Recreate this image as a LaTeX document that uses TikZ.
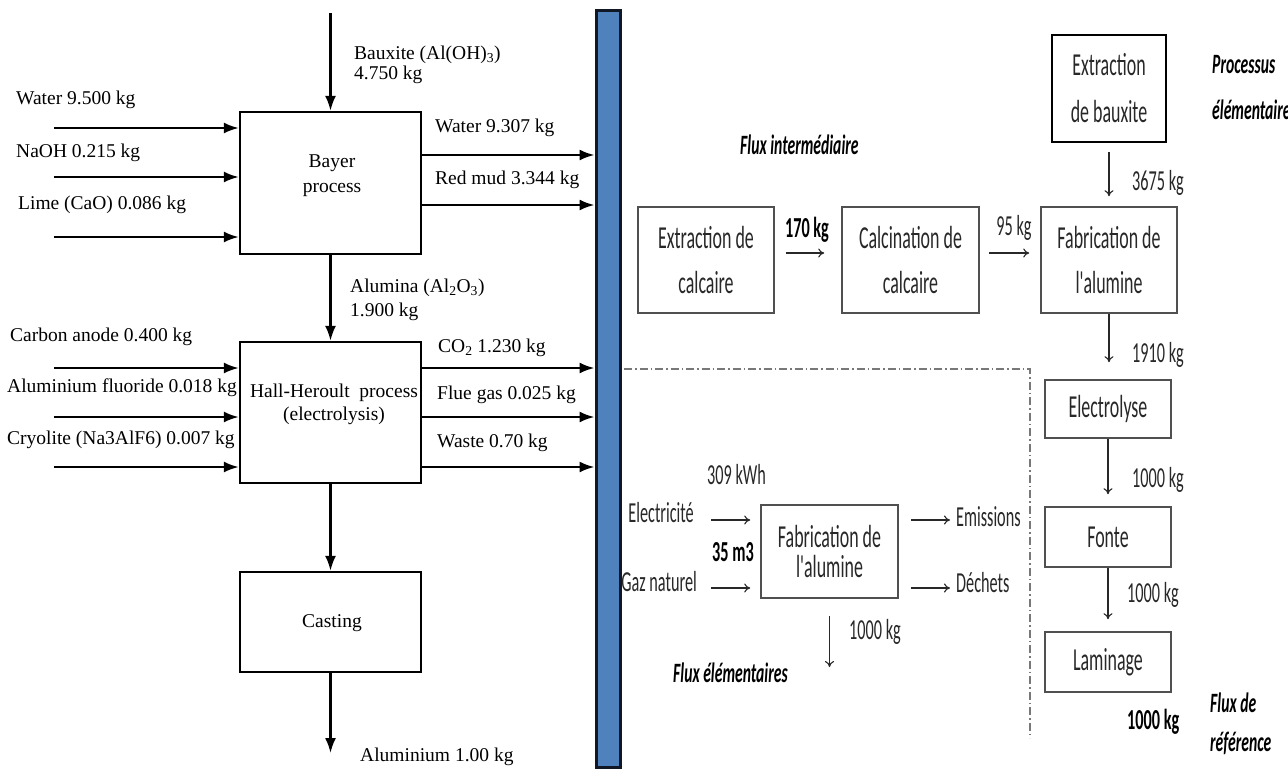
\documentclass[tikz,border=0pt]{standalone}
\usepackage{fontspec}
\setmainfont{Liberation Serif}
\newfontfamily\calib[FakeStretch=0.56]{Carlito}
\usetikzlibrary{arrows.meta}
\definecolor{barblue}{RGB}{79,129,189}
\definecolor{barrim}{RGB}{16,24,38}
\definecolor{ink}{RGB}{40,40,40}
\definecolor{boxline}{RGB}{80,80,80}
\definecolor{dashgrey}{RGB}{120,120,120}

\tikzset{
  lbox/.style={draw=black, line width=2.4pt, minimum width=181pt, inner sep=0pt},
  ltext/.style={inner sep=0pt, align=center, font=\fontsize{19.5}{25}\selectfont},
  lflow/.style={line width=2.2pt, -{Latex[length=15pt,width=11pt]}},
  llabel/.style={anchor=west, inner sep=0pt, align=left, font=\fontsize{19.5}{22}\selectfont},
  rbox/.style={draw=boxline, line width=1.6pt, inner sep=0pt, text=ink, align=center},
  rboxfont/.style={font=\calib\fontsize{32}{#1}\selectfont},
  rflow/.style={draw=ink, line width=1.1pt, -{To[length=6pt,width=9pt]}},
  rlabel/.style={inner sep=0pt, text=ink, anchor=west, font=\calib\fontsize{29}{32}\selectfont},
  rbold/.style={inner sep=0pt, text=black, anchor=west, font=\calib\bfseries\fontsize{29}{32}\selectfont},
  rnote/.style={inner sep=0pt, text=black, anchor=west, font=\calib\bfseries\itshape\fontsize{28}{32}\selectfont},
}

\begin{document}
\begin{tikzpicture}[x=1pt,y=-1pt]
\useasboundingbox (0,0) rectangle (1288,769);
\fill[white] (0,0) rectangle (1288,769);

% ---------------- Left: process chain ----------------
\node[lbox, minimum height=142pt] (bayer) at (330.5,183) {};
\node[ltext] (bayertxt) at (332,176) {Bayer\\process};
\node[lbox, minimum height=141pt] (hh) at (330.5,412.5) {};
\node[ltext, font=\fontsize{19.5}{23}\selectfont] (hhtxt) at (334,404) {Hall-Heroult\ \ process\\(electrolysis)};
\node[lbox, minimum height=100pt] (casting) at (330.5,622) {};
\node[ltext] (castingtxt) at (332,623) {Casting};

% the separating bar; the left part of "Gaz naturel" slips under it
\node[rlabel, anchor=east] (gaz) at (697,582) {Gaz naturel};
\node[draw=barrim, fill=barblue, line width=3pt, minimum width=24pt, minimum height=757pt, inner sep=0pt] (bar) at (608,388.5) {};

% main vertical flow
\coordinate (bxsrc) at (330.5,13);
\coordinate (alout) at (330.5,753);
\draw[lflow] (bxsrc) -- (bayer.north);
\draw[lflow] (bayer.south) -- (hh.north);
\draw[lflow] (hh.south) -- (casting.north);
\draw[lflow] (casting.south) -- (alout);

\node[llabel, font=\fontsize{19.5}{20}\selectfont] (bauxite) at (354,65) {Bauxite (Al(OH)\textsubscript{3})\\4.750 kg};
\node[llabel, font=\fontsize{19.5}{24}\selectfont] (alumina) at (350,300) {Alumina (Al\textsubscript{2}O\textsubscript{3})\\1.900 kg};
\node[llabel] (alum) at (360,757) {Aluminium 1.00 kg};

% Bayer inputs
\coordinate (bi1) at (54,128);
\coordinate (bi2) at (54,177);
\coordinate (bi3) at (54,237);
\foreach \c in {bi1,bi2,bi3} \draw[lflow] (\c) -- (\c -| bayer.west);
\node[llabel] (water1) at (16,100) {Water 9.500 kg};
\node[llabel] (naoh) at (16,153) {NaOH 0.215 kg};
\node[llabel] (lime) at (18,205) {Lime (CaO) 0.086 kg};

% Bayer outputs
\coordinate (bo1) at (421,155);
\coordinate (bo2) at (421,205);
\foreach \c in {bo1,bo2} \draw[lflow] (\c) -- (\c -| bar.west);
\node[llabel] (water2) at (435,128) {Water 9.307 kg};
\node[llabel] (redmud) at (435,180) {Red mud 3.344 kg};

% Hall-Heroult inputs
\coordinate (hi1) at (54,368);
\coordinate (hi2) at (54,417);
\coordinate (hi3) at (54,467);
\foreach \c in {hi1,hi2,hi3} \draw[lflow] (\c) -- (\c -| hh.west);
\node[llabel] (carbon) at (10,337) {Carbon anode 0.400 kg};
\node[llabel] (fluor) at (7,388) {Aluminium fluoride 0.018 kg};
\node[llabel] (cryo) at (7,440) {Cryolite (Na3AlF6) 0.007 kg};

% Hall-Heroult outputs
\coordinate (ho1) at (421,368);
\coordinate (ho2) at (421,417);
\coordinate (ho3) at (421,467);
\foreach \c in {ho1,ho2,ho3} \draw[lflow] (\c) -- (\c -| bar.west);
\node[llabel] (co2) at (438,348) {CO\textsubscript{2} 1.230 kg};
\node[llabel] (flue) at (437,395) {Flue gas 0.025 kg};
\node[llabel] (waste) at (437,443) {Waste 0.70 kg};

% ---------------- Right: life-cycle flow ----------------
\node[rbox, draw=black, line width=2.8pt, minimum width=114pt, minimum height=107pt, rboxfont=47] (bxt) at (1109,88.5) {Extraction\\de bauxite};
\node[rbox, minimum width=136pt, minimum height=106pt, rboxfont=45] (calc1) at (706,260) {Extraction de\\calcaire};
\node[rbox, minimum width=137pt, minimum height=106pt, rboxfont=45] (calc2) at (910.5,260) {Calcination de\\calcaire};
\node[rbox, minimum width=136pt, minimum height=106pt, rboxfont=45] (fab1) at (1109,260) {Fabrication de\\l'alumine};
\node[rbox, minimum width=126pt, minimum height=58pt, rboxfont=34] (elec) at (1108,409) {Electrolyse};
\node[rbox, minimum width=126pt, minimum height=60pt, rboxfont=34] (fonte) at (1108,537) {Fonte};
\node[rbox, minimum width=126pt, minimum height=60pt, rboxfont=34] (lamin) at (1108,662) {Laminage};
\node[rbox, minimum width=137pt, minimum height=93pt, rboxfont=30] (fab2) at (829.5,551.5) {Fabrication de\\l'alumine};

% chain arrows
\draw[rflow, shorten <=11pt, shorten >=17pt] ([yshift=7pt]calc1.east) -- ([yshift=7pt]calc2.west);
\draw[rflow, shorten <=9pt, shorten >=11pt] ([yshift=7pt]calc2.east) -- ([yshift=7pt]fab1.west);
\draw[rflow, shorten <=9pt, shorten >=10pt] (bxt.south) -- (fab1.north);
\draw[rflow, shorten >=17pt] (fab1.south) -- (fab1.south |- elec.north);
\draw[rflow, shorten >=12pt] (elec.south) -- (fonte.north);
\draw[rflow, shorten >=12pt] (fonte.south) -- (lamin.north);

\node[rlabel] (q3675) at (1132,183) {3675 kg};
\node[rbold, anchor=center] (q170) at (807,230) {170 kg};
\node[rlabel, anchor=center] (q95) at (1014,228) {95 kg};
\node[rlabel] (q1910) at (1132,355) {1910 kg};
\node[rlabel] (q1000a) at (1132,480) {1000 kg};
\node[rlabel] (q1000b) at (1127,595) {1000 kg};
\node[rbold] (q1000c) at (1127,722) {1000 kg};

% elementary process detail
\coordinate (ein1) at (711,520);
\coordinate (ein2) at (711,588);
\draw[rflow, shorten >=10pt] (ein1) -- (ein1 -| fab2.west);
\draw[rflow, shorten >=10pt] (ein2) -- (ein2 -| fab2.west);
\node[rlabel, anchor=east] (elecin) at (694,513) {Electricité};
\node[rlabel] (kwh) at (707,475) {309 kWh};
\node[rbold] (gas) at (712,552) {35 m3};

\node[rlabel] (emis) at (956,517) {Emissions};
\node[rlabel] (dech) at (956,583) {Déchets};
\draw[rflow, shorten <=12pt, shorten >=6pt] (fab2.east |- 0,520) -- (emis.west |- 0,520);
\draw[rflow, shorten <=12pt, shorten >=6pt] (fab2.east |- 0,588) -- (dech.west |- 0,588);

\coordinate (eout) at (829.5,667);
\draw[rflow, shorten <=17pt] (fab2.south) -- (eout);
\node[rlabel] (q1000d) at (849,632) {1000 kg};

% boundary of the elementary flows
\draw[dashgrey, line width=1.2pt, dash pattern=on 8pt off 3pt on 1.5pt off 3pt] (624,369) -- (1030,369) -- (1030,738);

% captions
\node[rnote] (fluxint) at (740,145) {Flux intermédiaire};
\node[rnote] (procel1) at (1212,65) {Processus};
\node[rnote] (procel2) at (1212,110) {élémentaire};
\node[rnote] (fluxel) at (673,673) {Flux élémentaires};
\node[rnote] (fluxref1) at (1210,703) {Flux de};
\node[rnote] (fluxref2) at (1210,743) {référence};
\end{tikzpicture}
\end{document}
